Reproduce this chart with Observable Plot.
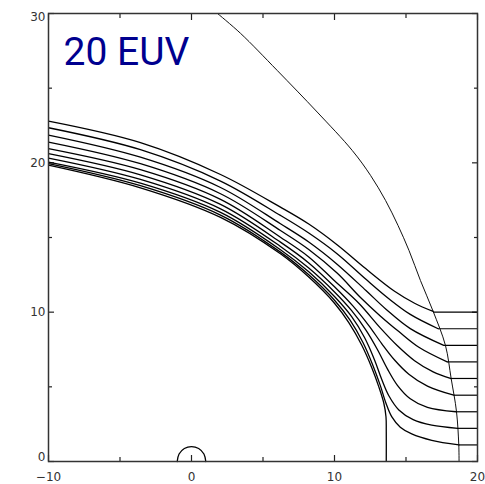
<!DOCTYPE html>
<html>
<head>
<meta charset="utf-8">
<script src="https://cdn.jsdelivr.net/npm/d3@7"></script>
<script src="https://cdn.jsdelivr.net/npm/@observablehq/plot@0.6"></script>
<style>
  html, body { margin: 0; padding: 0; background: #fff; }
</style>
</head>
<body>
<div id="chart"></div>
<script>
// Axis ticks and labels
const xMajor = [-10, 0, 10, 20];
const xMinor = [-5, 5, 15];
const yMajor = [0, 10, 20, 30];
const yMinor = [5, 15, 25];
const xTickLabels = ["−10", "0", "10", "20"];
const yTickLabels = ["0", "10", "20", "30"];
const panelLabel = "20 EUV";

// Outer boundary (bow shock)
const shockX = [1.82, 3.43, 5.99, 8.79, 11.24, 12.52, 13.57, 14.44, 15.21, 16.01, 16.9, 17.76, 18.16, 18.53, 18.69, 18.71];
const shockY = [30, 28.67, 26.19, 23.4, 20.83, 19.16, 17.48, 15.81, 14.13, 12.12, 10.05, 7.77, 5.54, 3.35, 1.14, 0];

// Streamlines downstream of the boundary (k = 0 innermost)
const line0 = [[-10,19.85],[-3.57,18.33],[2.03,16.35],[6.22,13.91],[8.2,12.35],[10.0,10.6],[11.0,9.3],[11.9,7.8],[12.6,6.3],[13.1,5.0],[13.45,3.9],[13.6,3.0],[13.62,2.0],[13.62,0]];
const line1 = [[-10,19.95],[-3.57,18.47],[2.03,16.5],[6.22,14.02],[8.2,12.5],[10.0,10.8],[11.1,9.45],[12.0,7.95],[12.7,6.4],[13.2,5.1],[13.6,3.9],[14.0,3.0],[14.6,2.3],[15.4,1.85],[16.8,1.42],[18.7,1.11]];
const line2 = [[-10,20.05],[-3.57,18.64],[2.03,16.68],[6.22,14.18],[8.2,12.7],[10.0,11.05],[11.2,9.7],[12.1,8.3],[12.8,6.8],[13.3,5.5],[13.8,4.4],[14.5,3.45],[15.5,2.8],[16.8,2.43],[18.62,2.22]];
const line3 = [[-10,20.32],[-3.57,18.89],[2.03,16.92],[6.22,14.4],[8.2,12.95],[10.0,11.35],[11.2,10.1],[12.2,8.8],[13.0,7.5],[13.7,6.2],[14.4,5.1],[15.3,4.2],[16.5,3.62],[18.5,3.33]];
const line4 = [[-10,20.62],[-3.57,19.2],[2.03,17.22],[6.22,14.69],[8.2,13.3],[10.0,11.7],[11.3,10.4],[12.4,9.1],[13.3,7.9],[14.2,6.8],[15.2,5.85],[16.5,5.05],[18.34,4.44]];
const line5 = [[-10,20.95],[-3.57,19.54],[2.03,17.55],[6.22,15.02],[8.2,13.7],[10.0,12.1],[11.7,10.6],[13.2,8.95],[14.4,7.75],[15.6,6.75],[16.9,6.0],[18.11,5.56]];
const line6 = [[-10,21.39],[-3.57,19.94],[2.03,17.93],[6.22,15.47],[8.2,14.2],[10.2,12.6],[11.8,11.0],[13.2,9.75],[14.5,8.7],[15.9,7.65],[17.88,6.67]];
const line7 = [[-10,21.86],[-3.57,20.38],[2.03,18.35],[6.22,15.92],[8.2,14.7],[10.2,13.2],[12.2,11.45],[13.6,10.2],[15.3,8.9],[17.64,7.78]];
const line8 = [[-10,22.35],[-3.57,20.88],[2.03,18.78],[6.22,16.48],[8.2,15.3],[10.2,13.9],[12.2,12.2],[13.8,10.9],[15.3,9.85],[17.25,8.89]];
const line9 = [[-10,22.79],[-3.57,21.35],[2.03,19.22],[6.22,17.03],[8.2,15.9],[10.2,14.5],[12.2,12.9],[14.2,11.4],[15.6,10.6],[16.9,10.05]];

// Upstream straight segments (from boundary to right edge)
const upstreamY = [1.11, 2.22, 3.33, 4.44, 5.56, 6.67, 7.78, 8.89, 10];
const crossingX = [18.7, 18.62, 18.5, 18.34, 18.11, 17.88, 17.64, 17.25, 16.9];

// Planet outline (upper half)
const planetX = [-1, -0.87, -0.5, 0, 0.5, 0.87, 1];
const planetY = [0, 0.5, 0.87, 1, 0.87, 0.5, 0];

// Build tables
const lines = [line0, line1, line2, line3, line4, line5, line6, line7, line8, line9];
const streamRows = lines.flatMap((pts, k) => pts.map(([x, y]) => ({x, y, k})));
const shockRows = shockX.map((x, i) => ({x, y: shockY[i]}));
const upstreamRows = upstreamY.map((y, i) => ({x1: crossingX[i], x2: 20, y}));
const planetRows = planetX.map((x, i) => ({x, y: planetY[i]}));

const labelFont = "DejaVu Sans";
const tickStyle = {fill: "none", stroke: "#222", strokeWidth: 1.2};

const chart = Plot.plot({
  width: 485,
  height: 484,
  marginLeft: 48,
  marginRight: 8,
  marginTop: 13,
  marginBottom: 23,
  x: {domain: [-10, 20]},
  y: {domain: [0, 30]},
  style: {background: "#fff", fontFamily: labelFont},
  marks: [
    // inward ticks on all four sides
    Plot.axisX(xMajor, {anchor: "bottom", tickSize: -6, ...tickStyle}),
    Plot.axisX(xMinor, {anchor: "bottom", tickSize: -4, ...tickStyle}),
    Plot.axisX(xMajor, {anchor: "top", tickSize: -6, ...tickStyle}),
    Plot.axisX(xMinor, {anchor: "top", tickSize: -4, ...tickStyle}),
    Plot.axisY(yMajor, {anchor: "left", tickSize: -6, ...tickStyle}),
    Plot.axisY(yMinor, {anchor: "left", tickSize: -4, ...tickStyle}),
    Plot.axisY(yMajor, {anchor: "right", tickSize: -6, ...tickStyle}),
    Plot.axisY(yMinor, {anchor: "right", tickSize: -4, ...tickStyle}),
    // tick labels
    Plot.axisX(xMajor, {anchor: "bottom", tickSize: 0, tickPadding: 11, fontSize: 12, fill: "#333",
      tickFormat: (d) => xTickLabels[xMajor.indexOf(d)]}),
    Plot.text(yMajor.slice(1, 3), {y: (d) => d, frameAnchor: "left", dx: -3, textAnchor: "end", fontSize: 12, fill: "#333",
      text: (d) => yTickLabels[yMajor.indexOf(d)]}),
    Plot.text([yMajor[3]], {y: (d) => d, frameAnchor: "left", dx: -3, dy: 4, textAnchor: "end", fontSize: 12, fill: "#333",
      text: (d) => yTickLabels[yMajor.indexOf(d)]}),
    Plot.text([yMajor[0]], {y: (d) => d, frameAnchor: "left", dx: -3, dy: -4, textAnchor: "end", fontSize: 12, fill: "#333",
      text: (d) => yTickLabels[yMajor.indexOf(d)]}),
    // bow shock
    Plot.line(shockRows, {x: "x", y: "y", curve: "catmull-rom", stroke: "#111", strokeWidth: 1, clip: true}),
    // streamlines
    Plot.line(streamRows, {x: "x", y: "y", z: "k", curve: "catmull-rom", stroke: "#000", strokeWidth: 1.3, clip: true}),
    Plot.link(upstreamRows, {x1: "x1", x2: "x2", y1: "y", y2: "y", stroke: "#000", strokeWidth: 1.2}),
    // planet
    Plot.line(planetRows, {x: "x", y: "y", curve: "catmull-rom", stroke: "#000", strokeWidth: 1.3}),
    // frame
    Plot.frame({stroke: "#333", strokeWidth: 1.5}),
    // panel label
    Plot.text([panelLabel], {frameAnchor: "top-left", dx: 15, dy: 24, lineAnchor: "top", textAnchor: "start",
      fontSize: 39, fontFamily: "Roboto", fill: "#00008f"})
  ]
});
document.getElementById("chart").appendChild(chart);
</script>
</body>
</html>
